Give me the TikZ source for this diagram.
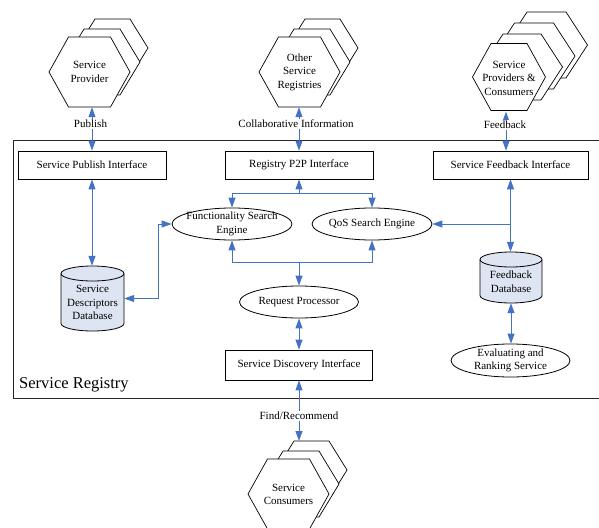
\documentclass[tikz,border=0pt]{standalone}
\usepackage{fontspec}
\setmainfont{Liberation Serif}
\usetikzlibrary{arrows.meta,shapes.geometric,calc}
\definecolor{arrblue}{RGB}{68,114,196}
\definecolor{cylfill}{RGB}{221,229,242}
\newcommand\hexa[5]{\draw[hexst] ({#1-#3},{#2}) -- ({#1-#4},{#2-#5}) -- ({#1+#4},{#2-#5}) -- ({#1+#3},{#2}) -- ({#1+#4},{#2+#5}) -- ({#1-#4},{#2+#5}) -- cycle;}
\newcommand\mycyl[5]{%
 \pgfmathsetmacro\ka{0.5523*#4}\pgfmathsetmacro\kb{0.5523*#5}%
 \draw[cylst] ({#1-#4},{#2+#5}) -- ({#1-#4},{#3-#5})
   .. controls ({#1-#4},{#3-#5+\kb}) and ({#1-\ka},{#3}) .. ({#1},{#3})
   .. controls ({#1+\ka},{#3}) and ({#1+#4},{#3-#5+\kb}) .. ({#1+#4},{#3-#5})
   -- ({#1+#4},{#2+#5})
   .. controls ({#1+#4},{#2+#5-\kb}) and ({#1+\ka},{#2}) .. ({#1},{#2})
   .. controls ({#1-\ka},{#2}) and ({#1-#4},{#2+#5-\kb}) .. ({#1-#4},{#2+#5}) -- cycle;
 \draw[cylln] ({#1-#4},{#2+#5}) .. controls ({#1-#4},{#2+#5+\kb}) and ({#1-\ka},{#2+2*#5}) .. ({#1},{#2+2*#5})
   .. controls ({#1+\ka},{#2+2*#5}) and ({#1+#4},{#2+#5+\kb}) .. ({#1+#4},{#2+#5});}
\tikzset{
  txt/.style={font=\fontsize{11}{13.5}\selectfont, align=center, inner sep=0pt},
  hexst/.style={draw=black, line width=0.7pt, fill=white, line join=miter},
  cylst/.style={draw=black, line width=0.8pt, fill=cylfill},
  cylln/.style={draw=black, line width=0.8pt},
  anch/.style={draw=none, inner sep=0pt},
  ibox/.style={txt, draw=black, line width=0.8pt, fill=white, minimum height=28pt},
  oval/.style={ellipse, draw=black, line width=0.8pt, fill=white, inner sep=0pt},
  lbl/.style={txt, fill=white, inner sep=1.5pt},
  conn/.style={draw=arrblue, line width=1pt},
  dbl/.style={conn, {Triangle[length=10pt,width=7pt]}-{Triangle[length=10pt,width=7pt]}},
  sgl/.style={conn, -{Triangle[length=10pt,width=7pt]}},
}
\begin{document}
\begin{tikzpicture}[x=1pt,y=-1pt]
\useasboundingbox (0,0) rectangle (599,527);
% frame
\node[draw=black!85, line width=0.8pt, minimum width=589pt, minimum height=258pt, inner sep=0pt] (reg) at (307.5,269) {};
\node[font=\fontsize{16.5}{18}\selectfont, anchor=base west, inner sep=0pt] (regtxt) at (19,388) {Service Registry};
% hexagon groups
\hexa{112.5}{48}{35.5}{17.5}{29}
\hexa{102}{62}{38}{18}{33}
\hexa{89.5}{72}{40.5}{21}{35}
\node[txt, minimum height=70pt] (prov) at (89.5,72) {Service\\Provider};
\hexa{322.5}{48}{35.5}{17.5}{29}
\hexa{312}{62}{38}{18}{33}
\hexa{299.5}{72}{40.5}{21}{35}
\node[txt, minimum height=70pt] (oreg) at (299.5,72) {Other\\Service\\Registries};
\hexa{546.5}{45}{41}{19.5}{33}
\hexa{534}{56}{41}{19.5}{33}
\hexa{522}{67}{40.5}{19}{33}
\hexa{509}{77}{36.5}{18}{33.5}
\node[txt, minimum height=67pt] (spc) at (509,78) {Service\\Providers \&\\Consumers};
\hexa{311.5}{470}{35.5}{17.5}{29}
\hexa{301}{484}{38}{18}{33}
\hexa{288.5}{494}{40.5}{21}{35}
\node[txt] (cons) at (288.5,494.5) {Service\\Consumers};
\coordinate (constop) at (299,441);
% interface boxes
\node[ibox, minimum width=148pt] (pubi) at (92,165) {Service Publish Interface};
\node[ibox, minimum width=148pt] (p2p) at (299,165) {Registry P2P Interface};
\node[ibox, minimum width=155pt] (fbi) at (510.5,165) {Service Feedback Interface};
\node[ibox, minimum width=147pt, minimum height=30pt] (sdi) at (299,365) {Service Discovery Interface};
% databases
\mycyl{92.5}{266}{331}{31.5}{7.5}
\node[anch, minimum width=63pt, minimum height=65pt] (sdd) at (92.5,298.5) {};
\node[txt] (sddtxt) at (92.5,302.5) {Service\\Descriptors\\Database};
\mycyl{511}{252}{303}{31}{7.5}
\node[anch, minimum width=62pt, minimum height=51pt] (fdb) at (511,277.5) {};
\node[txt] (fdbtxt) at (511,281.5) {Feedback\\Database};
% ellipses
\node[oval, minimum width=120pt, minimum height=32pt, label={[txt]center:{Functionality Search\\Engine}}] (fse) at (232,224) {};
\node[oval, minimum width=120pt, minimum height=32pt, label={[txt]center:{QoS Search Engine}}] (qos) at (372,224) {};
\node[oval, minimum width=119pt, minimum height=32pt, label={[txt]center:{Request Processor}}] (rp) at (299,302) {};
\node[oval, minimum width=119pt, minimum height=33pt, label={[txt]center:{Evaluating and\\Ranking Service}}] (ers) at (510.5,360.5) {};
% external connectors
\draw[dbl] (prov.south -| pubi.north) -- (pubi.north);
\node[lbl] (publbl) at (90.5,124) {Publish};
\draw[dbl] (oreg.south -| p2p.north) -- (p2p.north);
\node[lbl] (collbl) at (296,124) {Collaborative Information};
\draw[dbl] ([xshift=-3pt]spc.south) -- ([xshift=-3pt]spc.south |- fbi.north);
\node[lbl] (fblbl) at (505,125) {Feedback};
\draw[dbl] (sdi.south) -- (constop);
\node[lbl] (findlbl) at (299,416) {Find/Recommend};
% internal connectors
\draw[dbl] (pubi.south) -- (pubi.south |- sdd.north);
\draw[dbl] (sdd.east) -- ++(34,0) |- (fse.west);
\coordinate (j1) at (299,193);
\draw[sgl] (j1) -- (p2p.south);
\draw[sgl] (j1) -| (fse.north);
\draw[sgl] (j1) -| (qos.north);
\coordinate (j2) at (299,262);
\draw[sgl] (j2) -| (fse.south);
\draw[sgl] (j2) -| (qos.south);
\draw[sgl] (j2) -- (rp.north);
\draw[dbl] (rp.south) -- (sdi.north);
\draw[dbl] (fbi.south) -- (fbi.south |- fdb.north);
\coordinate (j3) at (fbi.south |- qos.east);
\draw[sgl] (j3) -- (qos.east);
\draw[dbl] (fdb.south) -- (fdb.south |- ers.north);
\end{tikzpicture}
\end{document}
